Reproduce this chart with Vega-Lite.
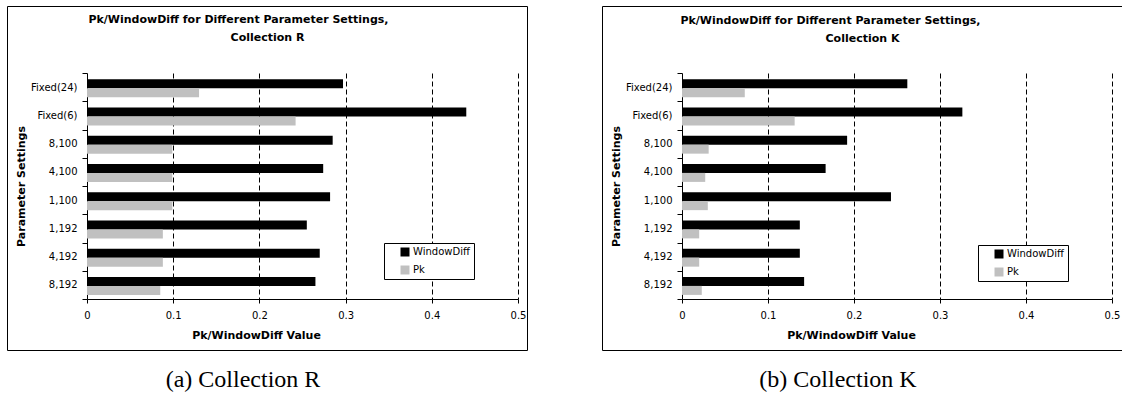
{
  "$schema": "https://vega.github.io/schema/vega-lite/v6.json",
  "background": "white",
  "padding": {"left": 6, "top": 0, "right": 0, "bottom": 0},
  "datasets": {
    "collR": [
      {"setting": "Fixed(24)", "metric": "WindowDiff", "value": 0.297},
      {"setting": "Fixed(24)", "metric": "Pk", "value": 0.130},
      {"setting": "Fixed(6)", "metric": "WindowDiff", "value": 0.440},
      {"setting": "Fixed(6)", "metric": "Pk", "value": 0.242},
      {"setting": "8,100", "metric": "WindowDiff", "value": 0.285},
      {"setting": "8,100", "metric": "Pk", "value": 0.099},
      {"setting": "4,100", "metric": "WindowDiff", "value": 0.274},
      {"setting": "4,100", "metric": "Pk", "value": 0.099},
      {"setting": "1,100", "metric": "WindowDiff", "value": 0.282},
      {"setting": "1,100", "metric": "Pk", "value": 0.099},
      {"setting": "1,192", "metric": "WindowDiff", "value": 0.255},
      {"setting": "1,192", "metric": "Pk", "value": 0.088},
      {"setting": "4,192", "metric": "WindowDiff", "value": 0.270},
      {"setting": "4,192", "metric": "Pk", "value": 0.088},
      {"setting": "8,192", "metric": "WindowDiff", "value": 0.265},
      {"setting": "8,192", "metric": "Pk", "value": 0.085}
    ],
    "collK": [
      {"setting": "Fixed(24)", "metric": "WindowDiff", "value": 0.262},
      {"setting": "Fixed(24)", "metric": "Pk", "value": 0.073},
      {"setting": "Fixed(6)", "metric": "WindowDiff", "value": 0.326},
      {"setting": "Fixed(6)", "metric": "Pk", "value": 0.131},
      {"setting": "8,100", "metric": "WindowDiff", "value": 0.192},
      {"setting": "8,100", "metric": "Pk", "value": 0.031},
      {"setting": "4,100", "metric": "WindowDiff", "value": 0.167},
      {"setting": "4,100", "metric": "Pk", "value": 0.027},
      {"setting": "1,100", "metric": "WindowDiff", "value": 0.243},
      {"setting": "1,100", "metric": "Pk", "value": 0.030},
      {"setting": "1,192", "metric": "WindowDiff", "value": 0.137},
      {"setting": "1,192", "metric": "Pk", "value": 0.020},
      {"setting": "4,192", "metric": "WindowDiff", "value": 0.137},
      {"setting": "4,192", "metric": "Pk", "value": 0.020},
      {"setting": "8,192", "metric": "WindowDiff", "value": 0.142},
      {"setting": "8,192", "metric": "Pk", "value": 0.023}
    ]
  },
  "spacing": 75,
  "bounds": "flush",
  "resolve": {
    "scale": {"color": "independent"},
    "legend": {"color": "independent"}
  },
  "hconcat": [
    {
      "width": 520,
      "height": 344,
      "data": {"name": "collR"},
      "title": {"text": "(a) Collection R", "orient": "bottom", "anchor": "middle", "dx": -24, "offset": 18, "font": "Liberation Serif", "fontSize": 24, "fontWeight": "normal", "color": "black"},
      "resolve": {"axis": {"x": "independent", "y": "independent"}},
      "layer": [
        {
          "mark": {"type": "bar"},
          "encoding": {
            "y": {
              "field": "setting", "type": "nominal",
              "sort": ["Fixed(24)", "Fixed(6)", "8,100", "4,100", "1,100", "1,192", "4,192", "8,192"],
              "scale": {"range": [67, 293], "paddingInner": 0, "paddingOuter": 0},
              "axis": {"orient": "left", "offset": -80, "tickBand": "extent", "tickSize": 5, "labelPadding": 5,
                       "title": "Parameter Settings", "titleX": -66, "titleY": 180, "titleAngle": 270,
                       "titleAlign": "center", "titleBaseline": "middle"}
            },
            "x": {
              "field": "value", "type": "quantitative",
              "scale": {"domain": [0, 0.5], "range": [80, 511], "nice": false, "zero": true},
              "axis": {"orient": "bottom", "offset": -51, "values": [0, 0.1, 0.2, 0.3, 0.4, 0.5], "format": ".1~f",
                       "grid": false, "tickSize": 4, "labelPadding": 7, "labelFlush": false,
                       "title": "Pk/WindowDiff Value", "titleX": 249, "titleY": 36,
                       "titleAlign": "center", "titleBaseline": "middle"}
            },
            "yOffset": {
              "field": "metric", "type": "nominal", "sort": ["WindowDiff", "Pk"],
              "scale": {"paddingInner": 0, "paddingOuter": 0.57, "align": 0.6}
            },
            "color": {
              "field": "metric", "type": "nominal", "sort": ["WindowDiff", "Pk"],
              "scale": {"domain": ["WindowDiff", "Pk"], "range": ["#000000", "#c0c0c0"]},
              "legend": {"orient": "none", "legendX": 377, "legendY": 237, "title": null, "direction": "vertical",
                         "strokeColor": "black", "fillColor": "white", "padding": 4, "rowPadding": 8,
                         "symbolType": "square", "symbolSize": 81, "symbolStrokeWidth": 0, "symbolOffset": 12,
                         "labelFontSize": 10, "labelOffset": 3, "labelColor": "black", "labelFont": "DejaVu Sans"}
            }
          }
        },
        {
          "mark": {"type": "bar", "opacity": 0},
          "encoding": {
            "y": {
              "field": "setting", "type": "nominal",
              "sort": ["Fixed(24)", "Fixed(6)", "8,100", "4,100", "1,100", "1,192", "4,192", "8,192"],
              "axis": {"orient": "right", "domain": false, "ticks": false, "labels": false, "grid": false,
                       "title": "Collection R", "titleAngle": 0, "titleX": -260, "titleY": 31,
                       "titleAlign": "center", "titleBaseline": "middle"}
            },
            "x": {
              "field": "value", "type": "quantitative",
              "axis": {"orient": "top", "domain": false, "ticks": false, "labels": false,
                       "grid": true, "values": [0.1, 0.2, 0.3, 0.4, 0.5], "gridColor": "black", "gridDash": [5, 3], "gridWidth": 1, "gridOpacity": 1,
                       "title": "Pk/WindowDiff for Different Parameter Settings,", "titleX": 231, "titleY": 13,
                       "titleAlign": "center", "titleBaseline": "middle"}
            }
          }
        }
      ]
    },
    {
      "width": 520,
      "height": 344,
      "data": {"name": "collK"},
      "title": {"text": "(b) Collection K", "orient": "bottom", "anchor": "middle", "dx": -24, "offset": 18, "font": "Liberation Serif", "fontSize": 24, "fontWeight": "normal", "color": "black"},
      "resolve": {"axis": {"x": "independent", "y": "independent"}},
      "layer": [
        {
          "mark": {"type": "bar"},
          "encoding": {
            "y": {
              "field": "setting", "type": "nominal",
              "sort": ["Fixed(24)", "Fixed(6)", "8,100", "4,100", "1,100", "1,192", "4,192", "8,192"],
              "scale": {"range": [67, 293], "paddingInner": 0, "paddingOuter": 0},
              "axis": {"orient": "left", "offset": -80, "tickBand": "extent", "tickSize": 5, "labelPadding": 5,
                       "title": "Parameter Settings", "titleX": -66, "titleY": 180, "titleAngle": 270,
                       "titleAlign": "center", "titleBaseline": "middle"}
            },
            "x": {
              "field": "value", "type": "quantitative",
              "scale": {"domain": [0, 0.5], "range": [80, 510], "nice": false, "zero": true},
              "axis": {"orient": "bottom", "offset": -51, "values": [0, 0.1, 0.2, 0.3, 0.4, 0.5], "format": ".1~f",
                       "grid": false, "tickSize": 4, "labelPadding": 7, "labelFlush": false,
                       "title": "Pk/WindowDiff Value", "titleX": 249, "titleY": 36,
                       "titleAlign": "center", "titleBaseline": "middle"}
            },
            "yOffset": {
              "field": "metric", "type": "nominal", "sort": ["WindowDiff", "Pk"],
              "scale": {"paddingInner": 0, "paddingOuter": 0.57, "align": 0.6}
            },
            "color": {
              "field": "metric", "type": "nominal", "sort": ["WindowDiff", "Pk"],
              "scale": {"domain": ["WindowDiff", "Pk"], "range": ["#000000", "#c0c0c0"]},
              "legend": {"orient": "none", "legendX": 376, "legendY": 239, "title": null, "direction": "vertical",
                         "strokeColor": "black", "fillColor": "white", "padding": 4, "rowPadding": 8,
                         "symbolType": "square", "symbolSize": 81, "symbolStrokeWidth": 0, "symbolOffset": 12,
                         "labelFontSize": 10, "labelOffset": 3, "labelColor": "black", "labelFont": "DejaVu Sans"}
            }
          }
        },
        {
          "mark": {"type": "bar", "opacity": 0},
          "encoding": {
            "y": {
              "field": "setting", "type": "nominal",
              "sort": ["Fixed(24)", "Fixed(6)", "8,100", "4,100", "1,100", "1,192", "4,192", "8,192"],
              "axis": {"orient": "right", "domain": false, "ticks": false, "labels": false, "grid": false,
                       "title": "Collection K", "titleAngle": 0, "titleX": -260, "titleY": 32,
                       "titleAlign": "center", "titleBaseline": "middle"}
            },
            "x": {
              "field": "value", "type": "quantitative",
              "axis": {"orient": "top", "domain": false, "ticks": false, "labels": false,
                       "grid": true, "values": [0.1, 0.2, 0.3, 0.4, 0.5], "gridColor": "black", "gridDash": [5, 3], "gridWidth": 1, "gridOpacity": 1,
                       "title": "Pk/WindowDiff for Different Parameter Settings,", "titleX": 228, "titleY": 14,
                       "titleAlign": "center", "titleBaseline": "middle"}
            }
          }
        }
      ]
    }
  ],
  "config": {
    "view": {"stroke": "black", "strokeWidth": 1, "fill": "white"},
    "font": "DejaVu Sans",
    "bar": {"stroke": null},
    "axis": {
      "domainColor": "black", "domainWidth": 1, "tickColor": "black", "tickWidth": 1,
      "labelColor": "black", "labelFont": "DejaVu Sans", "labelFontSize": 10,
      "titleColor": "black", "titleFont": "DejaVu Sans", "titleFontSize": 11, "titleFontWeight": "bold",
      "labelOverlap": false
    }
  }
}
